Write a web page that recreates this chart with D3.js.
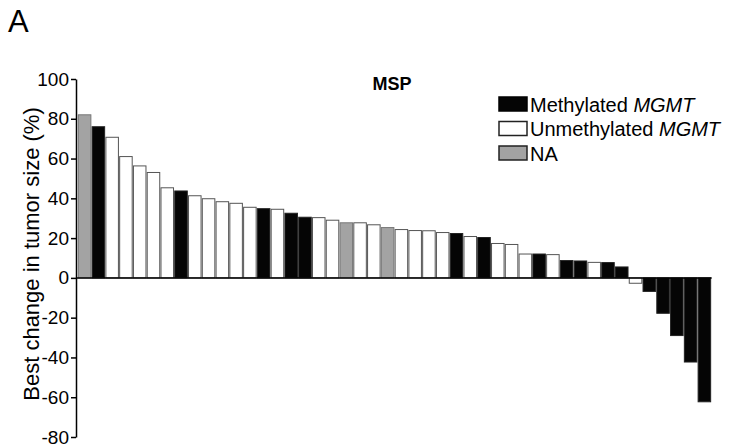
<!DOCTYPE html>
<html>
<head>
<meta charset="utf-8">
<script src="https://cdn.jsdelivr.net/npm/d3@7"></script>
<style>
    body { margin: 0; background: #fff; }
    svg { display: block; font-family: "Liberation Sans", Arial, sans-serif; }
</style>
</head>
<body>
<svg id="chart"></svg>
<script>
// best change in tumor size (%) per patient, ordered as in the waterfall
const values = [82, 76, 70.7, 61, 56.3, 53, 45.3, 43.7, 41.3, 39.8, 38.3, 37.5, 35.5, 34.8, 34.5,
    32.5, 30.5, 30.3, 29, 27.7, 27.7, 26.7, 25.3, 24.3, 23.8, 23.7, 22.8, 22.3, 20.8, 20.3,
    17.3, 16.8, 12, 12, 11.7, 8.7, 8.5, 7.8, 7.7, 5.5, -2.7, -6.8, -17.8, -29, -42.3, -62.3]
// M = methylated, U = unmethylated, N = not available
const status = ['N', 'M', 'U', 'U', 'U', 'U', 'U', 'M', 'U', 'U', 'U', 'U', 'U', 'M', 'U',
    'M', 'M', 'U', 'U', 'N', 'U', 'U', 'N', 'U', 'U', 'U', 'U', 'M', 'U', 'M',
    'U', 'U', 'U', 'M', 'U', 'M', 'M', 'U', 'M', 'M', 'U', 'M', 'M', 'M', 'M', 'M']
const yTicks = [100, 80, 60, 40, 20, 0, -20, -40, -60, -80]
const legendKeys = ['M', 'U', 'N']
const legendLabels = [['Methylated ', 'MGMT'], ['Unmethylated ', 'MGMT'], ['NA', '']]

const fills = {M: '#050505', U: '#ffffff', N: '#a3a3a3'}
const strokes = {M: '#222', U: '#555', N: '#777'}

function waterfall(settings) {
    let chart = {}
    chart.settings = settings

    !function init() {
        chart.width_ = 730
        chart.height_ = 447
        chart.margin = {top: 79, right: 17, bottom: 10, left: 76}

        chart.svg = d3.select(chart.settings.selector)
            .attr('width', chart.width_)
            .attr('height', chart.height_)

        chart.x = d3.scaleBand()
            .domain(d3.range(values.length))
            .range([chart.margin.left, chart.width_ - chart.margin.right])
            .paddingInner(0.09)
            .paddingOuter(0.17)
        chart.y = d3.scaleLinear()
            .domain([-80, 100])
            .range([437, chart.margin.top])
    }()

    chart.update = function() {
        const svg = chart.svg

        // bars
        svg.append('g').selectAll('rect').data(values).enter().append('rect')
            .attr('x', (d, i) => chart.x(i))
            .attr('width', chart.x.bandwidth())
            .attr('y', d => chart.y(Math.max(d, 0)))
            .attr('height', d => Math.abs(chart.y(d) - chart.y(0)))
            .attr('fill', (d, i) => fills[status[i]])
            .attr('stroke', (d, i) => strokes[status[i]])
            .attr('stroke-width', 1)

        // zero line
        svg.append('line')
            .attr('x1', chart.margin.left).attr('x2', chart.x(values.length - 1) + chart.x.bandwidth() + 1)
            .attr('y1', chart.y(0)).attr('y2', chart.y(0))
            .attr('stroke', '#000').attr('stroke-width', 1.5)

        // y axis, plain hyphen for negatives as in the figure
        const axis = svg.append('g')
            .attr('transform', `translate(${chart.margin.left}, 0)`)
            .call(d3.axisLeft(chart.y).tickValues(yTicks).tickFormat(d => String(d))
                .tickSize(5).tickPadding(2).tickSizeOuter(0))
        axis.select('.domain').attr('stroke-width', 1.5)
        axis.selectAll('.tick line').attr('stroke-width', 1.5)
        axis.selectAll('.tick text')
            .attr('font-size', 19)
            .attr('font-family', '"Liberation Sans", Arial, sans-serif')
            .attr('fill', '#000')

        svg.append('text')
            .attr('transform', `translate(39, 254) rotate(-90)`)
            .attr('text-anchor', 'middle')
            .attr('font-size', 22)
            .text('Best change in tumor size (%)')

        svg.append('text')
            .attr('x', 392).attr('y', 90)
            .attr('text-anchor', 'middle')
            .attr('font-size', 18)
            .attr('font-weight', 'bold')
            .text('MSP')

        svg.append('text')
            .attr('x', 8).attr('y', 32)
            .attr('font-size', 31)
            .text('A')

        // legend
        const legend = svg.append('g').attr('transform', 'translate(499, 97)')
        const row = legend.selectAll('g').data(legendKeys).enter().append('g')
            .attr('transform', (d, i) => `translate(0, ${i * 24.5})`)
        row.append('rect')
            .attr('width', 28).attr('height', 14)
            .attr('fill', d => fills[d])
            .attr('stroke', d => d === 'M' ? '#000' : '#222')
            .attr('stroke-width', 1.5)
        const label = row.append('text')
            .attr('x', 31).attr('y', 14.5)
            .attr('font-size', 20)
        label.append('tspan').text((d, i) => legendLabels[i][0])
        label.append('tspan').attr('font-style', 'italic').text((d, i) => legendLabels[i][1])

        return chart
    }

    return chart
}

waterfall({selector: '#chart'}).update()
</script>
</body>
</html>
